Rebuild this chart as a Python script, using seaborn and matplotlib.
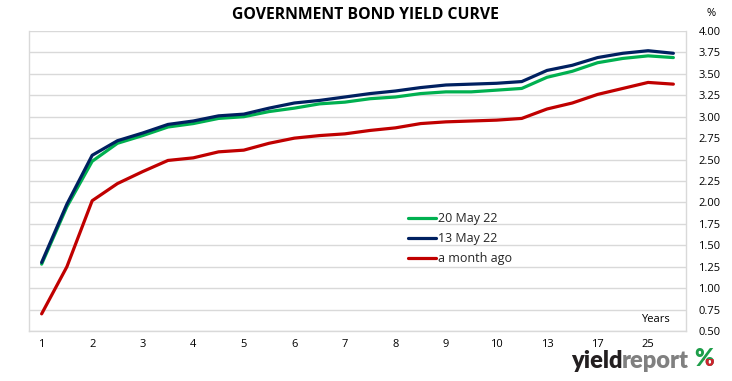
import matplotlib
matplotlib.use("Agg")
import matplotlib.pyplot as plt
import seaborn as sns
import pandas as pd
from matplotlib.lines import Line2D
from matplotlib.patches import Rectangle

categories = ["1", "1.5", "2", "2.5", "3", "3.5", "4", "4.5", "5", "5.5", "6", "6.5",
              "7", "7.5", "8", "8.5", "9", "9.5", "10", "12", "13", "15", "17", "20", "25", "30"]
tick_labels = ["1", "2", "3", "4", "5", "6", "7", "8", "9", "10", "13", "17", "25"]

may20 = [1.28, 1.95, 2.48, 2.69, 2.78, 2.88, 2.92, 2.98, 3.00, 3.06, 3.10, 3.15, 3.17,
         3.21, 3.23, 3.27, 3.29, 3.29, 3.31, 3.33, 3.46, 3.53, 3.63, 3.68, 3.71, 3.69]
may13 = [1.30, 1.98, 2.55, 2.72, 2.81, 2.91, 2.95, 3.01, 3.03, 3.10, 3.16, 3.19, 3.23,
         3.27, 3.30, 3.34, 3.37, 3.38, 3.39, 3.41, 3.54, 3.60, 3.69, 3.74, 3.77, 3.74]
month_ago = [0.70, 1.25, 2.02, 2.22, 2.36, 2.49, 2.52, 2.59, 2.61, 2.69, 2.75, 2.78, 2.80,
             2.84, 2.87, 2.92, 2.94, 2.95, 2.96, 2.98, 3.09, 3.16, 3.26, 3.33, 3.40, 3.38]

series_names = ["20 May 22", "13 May 22", "a month ago"]
colors = ["#00B050", "#002060", "#C00000"]

rows = []
for name, vals in zip(series_names, [may20, may13, month_ago]):
    for i, (c, v) in enumerate(zip(categories, vals)):
        rows.append({"pos": i, "term": c, "yield": v, "series": name})
df = pd.DataFrame(rows)

sns.set_theme(style="white")
plt.rcParams["font.family"] = ["Open Sans", "DejaVu Sans"]

W, H = 732, 381
fig = plt.figure(figsize=(W / 100, H / 100), dpi=100)
ax = fig.add_axes([29 / W, 1 - 331 / H, 657 / W, 300 / H])

sns.lineplot(data=df, x="pos", y="yield", hue="series", hue_order=series_names,
             palette=colors, linewidth=2.3, ax=ax, legend=False, zorder=3)

ax.set_xlim(-0.5, len(categories) - 0.5)
ax.set_ylim(0.5, 4.0)
yt = [0.5 + 0.25 * k for k in range(15)]
ax.set_yticks(yt)
ax.set_yticklabels([f"{v:.2f}" for v in yt])
ax.yaxis.tick_right()
tick_pos = [categories.index(t) for t in tick_labels]
ax.set_xticks(tick_pos)
ax.set_xticklabels(tick_labels)
ax.tick_params(axis="both", length=0, labelsize=8, colors="#000000")
ax.tick_params(axis="y", pad=9)
ax.tick_params(axis="x", pad=6)
ax.set_xlabel("")
ax.set_ylabel("")
ax.grid(axis="y", color="#D9D9D9", linewidth=1.0, zorder=0)
ax.grid(axis="x", visible=False)
ax.spines["top"].set_visible(False)
for side in ["left", "right", "bottom"]:
    ax.spines[side].set_color("#D9D9D9")
    ax.spines[side].set_linewidth(1.0)

handles = [Line2D([0], [0], color=c, linewidth=2.3) for c in colors]
fig.legend(handles, series_names, loc="upper left",
           bbox_to_anchor=(397 / W, 1 - 201 / H), frameon=False,
           handlelength=2.2, handletextpad=0.15, labelspacing=0.55,
           fontsize=9)

fig.text(365 / W, 1 - 15 / H, "GOVERNMENT BOND YIELD CURVE", ha="center", va="center",
         fontsize=11.3, fontweight="bold", color="#000000")
fig.text(711 / W, 1 - 14 / H, "%", ha="center", va="center", fontsize=8, color="#000000")
ax.text(24.3, 0.63, "Years", ha="center", va="center", fontsize=8, color="#000000")

# logo
logo_y = 1 - 361 / H
t1 = fig.text(571 / W, logo_y, "yield", ha="left", va="center", fontsize=17,
              fontweight="heavy", family="Lato", color="#231F20")
fig.canvas.draw()
bb = t1.get_window_extent()
t2 = fig.text((bb.x1 - 1) / W, logo_y, "report", ha="left", va="center", fontsize=17,
              fontweight="heavy", family="Lato", color="#808080")
fig.canvas.draw()
bb2 = t2.get_window_extent()
px = (bb2.x1 + 6) / W
pg = fig.text(px, logo_y + 0.004, "%", ha="left", va="center", fontsize=17,
              fontweight="heavy", family="Lato", color="#1E9E4A")
pr = fig.text(px, logo_y + 0.004, "%", ha="left", va="center", fontsize=17,
              fontweight="heavy", family="Lato", color="#D0202E")
fig.canvas.draw()
pb = pr.get_window_extent()
clip = Rectangle((pb.x0 + pb.width * 0.5, 0), pb.width, pb.y0 + pb.height * 0.5,
                 transform=None)
pr.set_clip_path(clip)

fig.savefig("out.png", dpi=100)
